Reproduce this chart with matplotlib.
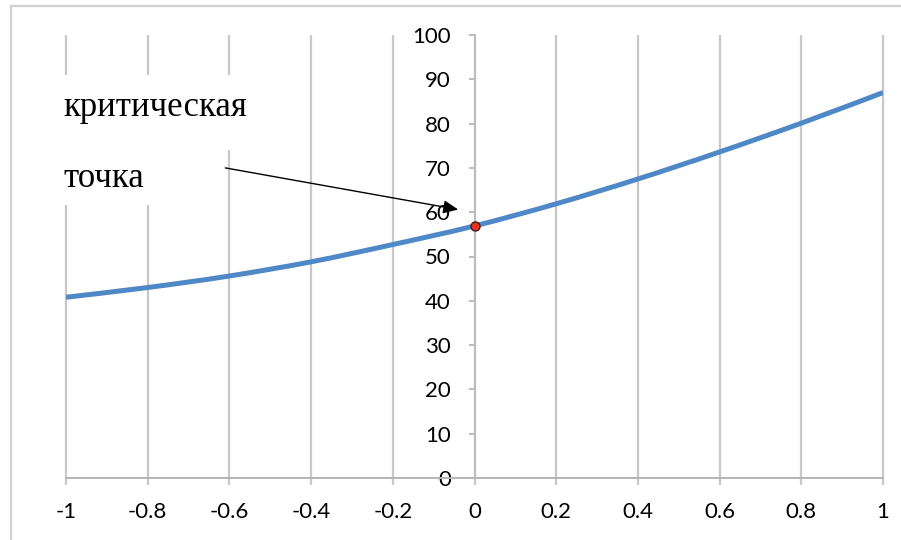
import matplotlib
matplotlib.use("Agg")
import matplotlib.pyplot as plt
from matplotlib.patches import Rectangle, PathPatch
from matplotlib.path import Path
from matplotlib.lines import Line2D

# data
x_vals = [-1.0, -0.8, -0.6, -0.4, -0.2, 0.0, 0.2, 0.4, 0.6, 0.8, 1.0]
y_vals = [40.8, 43.0, 45.6, 48.8, 52.7, 56.9, 61.9, 67.5, 73.6, 80.1, 87.0]
crit_x = [0.0]
crit_y = [56.9]
x_ticks = [-1.0, -0.8, -0.6, -0.4, -0.2, 0.0, 0.2, 0.4, 0.6, 0.8, 1.0]
x_tick_labels = ["-1", "-0.8", "-0.6", "-0.4", "-0.2", "0", "0.2", "0.4", "0.6", "0.8", "1"]
y_ticks = [0, 10, 20, 30, 40, 50, 60, 70, 80, 90, 100]
y_tick_labels = ["0", "10", "20", "30", "40", "50", "60", "70", "80", "90", "100"]
label_line1 = "критическая"
label_line2 = "точка"

W, H = 901, 540
fig = plt.figure(figsize=(W / 100, H / 100), dpi=100)
fig.patch.set_facecolor("white")

# outer frame (left and top edges visible)
frame_c = "#d0d0d0"
fig.add_artist(Line2D([11 / W, 11 / W], [0, 1 - 6 / H], transform=fig.transFigure,
                      color=frame_c, lw=1.6))
fig.add_artist(Line2D([11 / W, 1], [1 - 6 / H, 1 - 6 / H], transform=fig.transFigure,
                      color=frame_c, lw=1.6))

ax = fig.add_axes([66 / W, (H - 478) / H, 817 / W, 443 / H])
ax.set_xlim(-1, 1)
ax.set_ylim(0, 100)

grid_color = "#c8c8c8"
for xv in x_ticks:
    ax.plot([xv, xv], [-1.6, 100], color=grid_color, lw=1.6, zorder=1, clip_on=False,
            solid_capstyle="butt")

# white boxes behind text
ax.add_patch(Rectangle((-1.026, 74.0), 0.483, 17.0, facecolor="white", edgecolor="none", zorder=2,
                       clip_on=False))
ax.add_patch(Rectangle((-1.026, 61.6), 0.257, 12.4, facecolor="white", edgecolor="none", zorder=2,
                       clip_on=False))

for s in ["top", "right"]:
    ax.spines[s].set_visible(False)
ax.spines["bottom"].set_color("#b4b4b4")
ax.spines["bottom"].set_linewidth(1.4)
ax.spines["left"].set_position(("data", 0))
ax.spines["left"].set_color("#bcbcbc")
ax.spines["left"].set_linewidth(1.4)
ax.spines["left"].set_zorder(3)

ax.set_xticks(x_ticks)
ax.set_xticklabels(x_tick_labels)
ax.set_yticks(y_ticks)
ax.set_yticklabels(y_tick_labels)
ax.tick_params(axis="x", length=0, pad=17.5, labelsize=16)
ax.tick_params(axis="y", length=4.5, width=1.4, color="#bcbcbc", pad=12.5, labelsize=16)
for lbl in ax.get_xticklabels() + ax.get_yticklabels():
    lbl.set_fontfamily("Lato")
    lbl.set_color("black")

# smoothed curve (Catmull-Rom as cubic Bezier segments through the data points)
verts = [(x_vals[0], y_vals[0])]
codes = [Path.MOVETO]
n = len(x_vals)
for i in range(n - 1):
    p0 = (x_vals[max(i - 1, 0)], y_vals[max(i - 1, 0)])
    p1 = (x_vals[i], y_vals[i])
    p2 = (x_vals[i + 1], y_vals[i + 1])
    p3 = (x_vals[min(i + 2, n - 1)], y_vals[min(i + 2, n - 1)])
    c1 = (p1[0] + (p2[0] - p0[0]) / 6, p1[1] + (p2[1] - p0[1]) / 6)
    c2 = (p2[0] - (p3[0] - p1[0]) / 6, p2[1] - (p3[1] - p1[1]) / 6)
    verts += [c1, c2, p2]
    codes += [Path.CURVE4] * 3
ax.add_patch(PathPatch(Path(verts, codes), facecolor="none", edgecolor="#4f88c6", lw=3.6,
                       zorder=4, capstyle="butt"))

ax.plot(crit_x, crit_y, "o", markersize=6.5, markerfacecolor="#e8321e",
        markeredgecolor="#4a1a10", markeredgewidth=1.0, zorder=5)

ax.text(-1.007, 83.6, label_line1, fontfamily="Liberation Serif", fontsize=25,
        va="center", ha="left", zorder=6, clip_on=False)
ax.text(-1.007, 67.6, label_line2, fontfamily="Liberation Serif", fontsize=25,
        va="center", ha="left", zorder=6, clip_on=False)

ax.annotate("", xy=(-0.04, 60.6), xytext=(-0.61, 70.0),
            arrowprops=dict(arrowstyle="-|>,head_length=0.9,head_width=0.4", color="black",
                            lw=1.0, shrinkA=0, shrinkB=0), zorder=6)

fig.savefig("out.png", dpi=100, facecolor="white")
